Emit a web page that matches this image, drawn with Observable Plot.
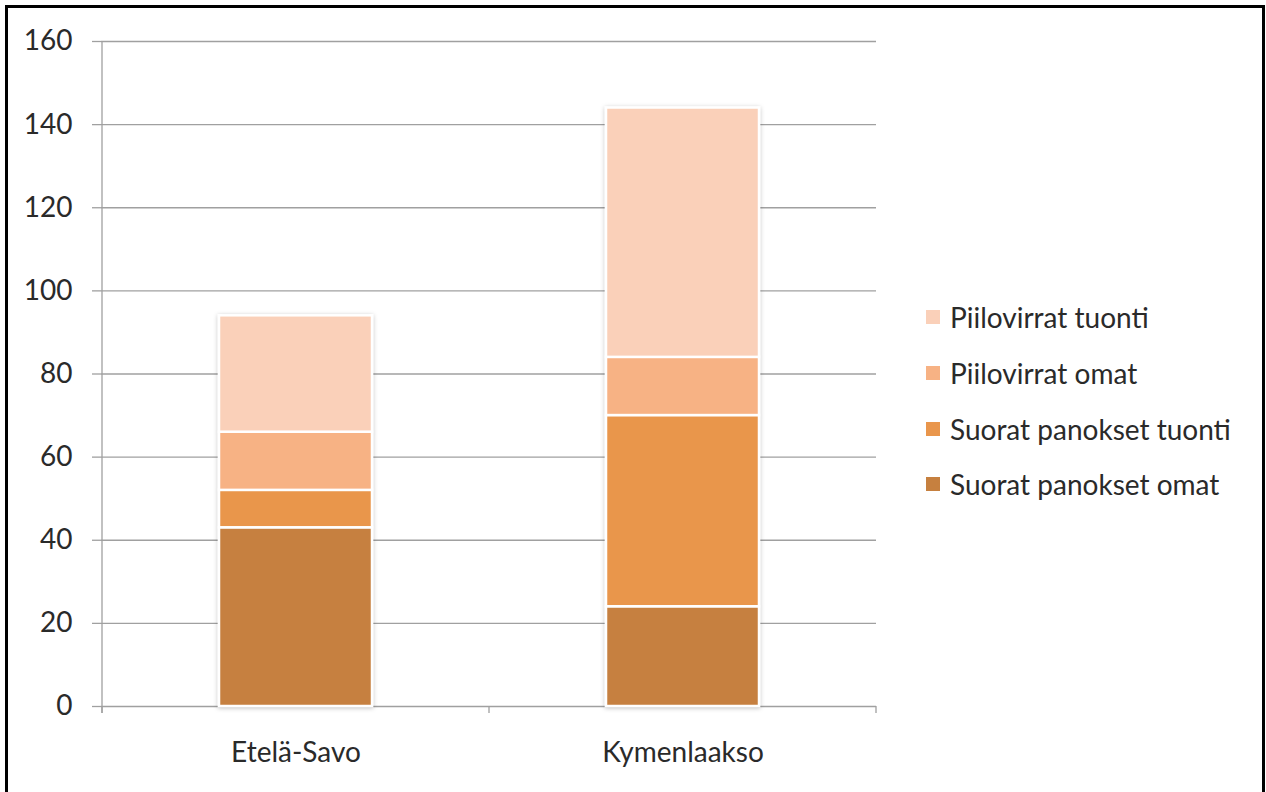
<!DOCTYPE html>
<html><head><meta charset="utf-8">
<script src="https://cdn.jsdelivr.net/npm/d3@7"></script>
<script src="https://cdn.jsdelivr.net/npm/@observablehq/plot@0.6"></script>
<style>
body{margin:0;background:#fff;font-family:Lato,sans-serif;}
#wrap{position:relative;width:1266px;height:792px;overflow:hidden;background:#fff;}
#wrap svg{position:absolute;left:0;top:0;}
#border{position:absolute;left:5px;top:5px;width:1260px;height:820px;border:3px solid #000;box-sizing:border-box;pointer-events:none;}
.lg{position:absolute;left:926px;display:flex;align-items:center;font-family:Lato,sans-serif;font-size:28px;color:#2a2a2a;white-space:nowrap;}
.lg span.sw{display:inline-block;width:14px;height:14px;margin-right:10px;}
</style></head>
<body><div id="wrap"><div id="border"></div></div>
<script>
const regions = ["Etelä-Savo", "Kymenlaakso"];
const seriesNames = ["Suorat panokset omat", "Suorat panokset tuonti", "Piilovirrat omat", "Piilovirrat tuonti"];
const suoratOmat = [43, 24];
const suoratTuonti = [9, 46];
const piiloOmat = [14, 14];
const piiloTuonti = [28, 60];
const seriesColors = ["#C6803F", "#E9964C", "#F7B284", "#FAD0B9"];
const yTicks = [0, 20, 40, 60, 80, 100, 120, 140, 160];

const seriesValues = [suoratOmat, suoratTuonti, piiloOmat, piiloTuonti];
const data = [];
seriesNames.forEach((s, si) => regions.forEach((r, ri) => data.push({region: r, series: s, value: seriesValues[si][ri]})));

const chart = Plot.plot({
  width: 1266, height: 792,
  marginLeft: 101, marginRight: 390, marginTop: 41, marginBottom: 86,
  style: {fontFamily: "Lato, sans-serif", fontSize: "28px", color: "#2a2a2a", background: "transparent", overflow: "visible"},
  x: {domain: regions, padding: 0, label: null},
  y: {domain: [0, 160], label: null},
  color: {domain: seriesNames, range: seriesColors},
  marks: [
    Plot.gridY(yTicks, {stroke: "#a0a0a0", strokeOpacity: 1, strokeWidth: 1.3}),
    Plot.axisY(yTicks, {tickSize: 9, tickPadding: 20, stroke: "#a0a0a0", strokeWidth: 1.3, fill: "#2a2a2a", label: null}),
    Plot.axisX({tickSize: 0, tickPadding: 36, fill: "#2a2a2a", label: null}),
    Plot.barY(data, {x: "region", y: "value", fill: "series", stroke: "white", strokeWidth: 2.5, insetLeft: 117, insetRight: 117})
  ]
});

const svg = d3.select(chart);
const sx = chart.scale("x"), sy = chart.scale("y");
const y0 = sy.apply(0), yTop = sy.apply(160);
const step = sx.step ?? sx.bandwidth;
const xs = [];
regions.forEach(r => xs.push(sx.apply(r)));
xs.push(sx.apply(regions[regions.length - 1]) + step);
const g = svg.append("g").attr("stroke", "#a0a0a0").attr("stroke-width", 1.3);
g.append("line").attr("x1", xs[0]).attr("x2", xs[0]).attr("y1", yTop).attr("y2", y0 + 7);
xs.forEach(x => g.append("line").attr("x1", x).attr("x2", x).attr("y1", y0).attr("y2", y0 + 7));

// soft shadow on bars
const defs = svg.insert("defs", ":first-child");
defs.append("filter").attr("id", "sh").attr("x", "-10%").attr("y", "-10%").attr("width", "120%").attr("height", "120%")
  .append("feDropShadow").attr("dx", 0).attr("dy", 1).attr("stdDeviation", 2).attr("flood-color", "#000").attr("flood-opacity", 0.25);
svg.selectAll("g[aria-label='bar']").attr("filter", "url(#sh)");

const wrap = document.getElementById("wrap");
wrap.insertBefore(chart, wrap.firstChild);

// legend (top to bottom: reverse stacking order)
const legendCenters = [317, 373, 429, 484];
[...seriesNames].reverse().forEach((s, i) => {
  const ci = seriesNames.indexOf(s);
  const d = document.createElement("div");
  d.className = "lg";
  d.style.top = (legendCenters[i] - 17) + "px";
  d.style.height = "34px";
  d.innerHTML = `<span class="sw" style="background:${seriesColors[ci]}"></span><span>${s}</span>`;
  wrap.appendChild(d);
});
</script>
</body></html>
